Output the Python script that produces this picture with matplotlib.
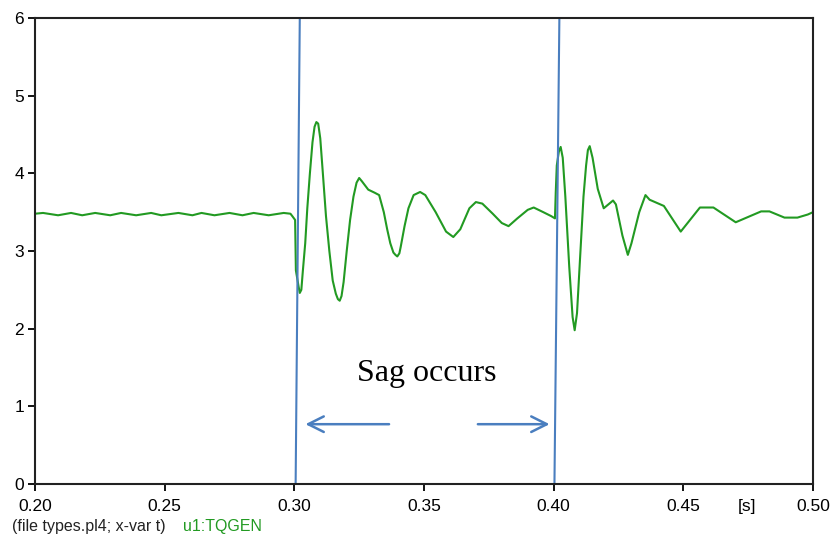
import matplotlib
matplotlib.use("Agg")
import matplotlib.pyplot as plt

# torque trace (time in s, value)
t_flat = [0.2000, 0.2031, 0.2089, 0.2139, 0.2182, 0.2232, 0.2290, 0.2332, 0.2390,
          0.2448, 0.2487, 0.2553, 0.2607, 0.2642, 0.2692, 0.2750, 0.2800, 0.2843,
          0.2901, 0.2959, 0.2985]
v_flat = [3.48, 3.49, 3.46, 3.49, 3.46, 3.49, 3.46, 3.49, 3.46,
          3.49, 3.46, 3.49, 3.46, 3.49, 3.46, 3.49, 3.46, 3.49,
          3.46, 3.49, 3.48]

t_sag = [0.2992, 0.3003, 0.3006, 0.3016, 0.3021, 0.3027, 0.3033, 0.3042, 0.3050,
         0.3060, 0.3070, 0.3078, 0.3085, 0.3092, 0.3100, 0.3110, 0.3122, 0.3135,
         0.3148, 0.3160, 0.3168, 0.3175, 0.3182, 0.3190, 0.3202, 0.3215, 0.3228,
         0.3240, 0.3250, 0.3260, 0.3285, 0.3310, 0.3327, 0.3345, 0.3358, 0.3370,
         0.3382, 0.3390, 0.3397, 0.3405, 0.3410, 0.3425, 0.3440, 0.3460, 0.3485,
         0.3505, 0.3545, 0.3585, 0.3613, 0.3640, 0.3675, 0.3700, 0.3725, 0.3765,
         0.3800, 0.3826, 0.3860, 0.3900, 0.3923, 0.3960, 0.3990, 0.4005]
v_sag = [3.45, 3.40, 2.75, 2.55, 2.46, 2.50, 2.75, 3.10, 3.55,
         4.00, 4.40, 4.60, 4.66, 4.64, 4.45, 4.00, 3.45, 3.00,
         2.62, 2.45, 2.38, 2.36, 2.42, 2.60, 3.00, 3.40, 3.70,
         3.88, 3.94, 3.90, 3.79, 3.75, 3.72, 3.50, 3.28, 3.10,
         2.98, 2.95, 2.93, 2.97, 3.05, 3.32, 3.55, 3.72, 3.76,
         3.72, 3.50, 3.25, 3.18, 3.28, 3.55, 3.63, 3.61, 3.48,
         3.36, 3.32, 3.42, 3.53, 3.56, 3.50, 3.45, 3.42]

t_rec = [0.4008, 0.4012, 0.4020, 0.4027, 0.4035, 0.4045, 0.4060, 0.4073, 0.4081,
         0.4090, 0.4105, 0.4115, 0.4125, 0.4132, 0.4139, 0.4150, 0.4170, 0.4193,
         0.4229, 0.4240, 0.4265, 0.4286, 0.4300, 0.4330, 0.4354, 0.4370, 0.4425,
         0.4490, 0.4564, 0.4616, 0.4702, 0.4800, 0.4832, 0.4890, 0.4940, 0.4980,
         0.5000]
v_rec = [3.75, 4.10, 4.28, 4.34, 4.20, 3.70, 2.80, 2.15, 1.98,
         2.20, 3.10, 3.70, 4.10, 4.30, 4.35, 4.20, 3.80, 3.55,
         3.65, 3.60, 3.20, 2.95, 3.10, 3.50, 3.72, 3.66, 3.58,
         3.25, 3.56, 3.56, 3.37, 3.51, 3.51, 3.43, 3.43, 3.47,
         3.50]

t = t_flat + t_sag + t_rec
v = v_flat + v_sag + v_rec

xticks = [0.20, 0.25, 0.30, 0.35, 0.40, 0.45, 0.50]
xticklabels = ["0.20", "0.25", "0.30", "0.35", "0.40", "0.45", "0.50"]
yticks = [0, 1, 2, 3, 4, 5, 6]

# sag markers drawn over the plot (bottom t, top t)
sag_start = (0.3005, 0.3021)
sag_end = (0.4003, 0.4022)

green = "#229a22"
blue = "#4a7ebf"

plt.rcParams["font.family"] = ["Liberation Sans", "DejaVu Sans"]

fig = plt.figure(figsize=(8.31, 5.38), dpi=100)
ax = fig.add_axes([35 / 831, 54 / 538, 778 / 831, 466 / 538])

ax.plot(t, v, color=green, lw=1.5)

ax.plot([sag_start[0], sag_start[1]], [0, 6], color=blue, lw=1.5)
ax.plot([sag_end[0], sag_end[1]], [0, 6], color=blue, lw=1.5)

arrow = dict(arrowstyle="->", color=blue, lw=1.8, mutation_scale=28)
ax.annotate("", xy=(0.3032, 0.77), xytext=(0.3376, 0.77), arrowprops=arrow)
ax.annotate("", xy=(0.3995, 0.77), xytext=(0.3697, 0.77), arrowprops=arrow)
ax.text(0.3512, 1.42, "Sag occurs", family=["Liberation Serif", "DejaVu Serif"],
        fontsize=23, ha="center", va="center", color="black")

ax.set_xlim(0.2, 0.5)
ax.set_ylim(0, 6)
ax.set_xticks(xticks)
ax.set_xticklabels(xticklabels)
ax.set_yticks(yticks)
ax.tick_params(direction="out", length=5, width=1.3, labelsize=12.5)
ax.tick_params(axis="x", pad=6)
ax.tick_params(axis="y", pad=3)
for s in ax.spines.values():
    s.set_linewidth(1.5)
    s.set_color("#222222")

fig.text(747 / 831, 1 - 506 / 538, "[s]", fontsize=12.5, ha="center", va="center")
fig.text(12 / 831, 1 - 526 / 538, "(file types.pl4; x-var t)", fontsize=11.5,
         ha="left", va="center", color="#222222")
fig.text(183 / 831, 1 - 526 / 538, "u1:TQGEN", fontsize=11.5, ha="left",
         va="center", color=green)

fig.savefig("out.png", dpi=100)
